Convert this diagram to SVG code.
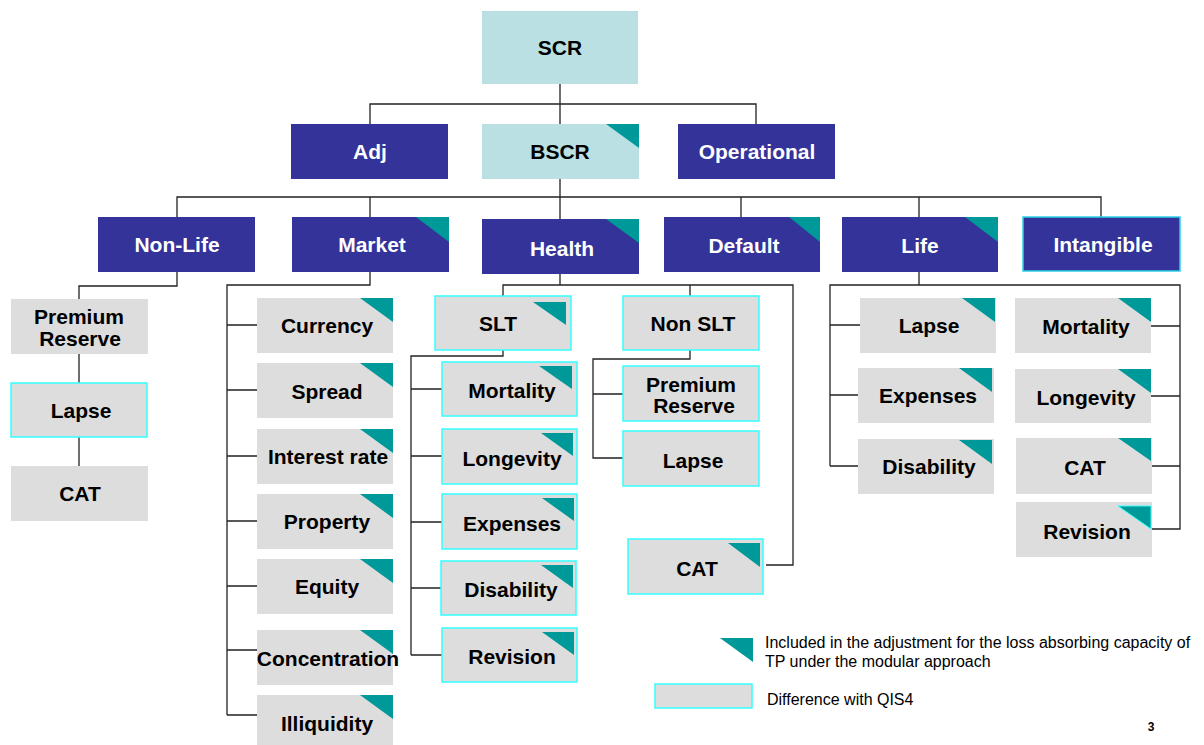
<svg xmlns="http://www.w3.org/2000/svg" width="1204" height="745" viewBox="0 0 1204 745">
  <style>
    .dark { fill: #333399; }
    .light { fill: #BBE0E3; }
    .gray { fill: #DDDDDD; }
    .diff { fill: #DDDDDD; stroke: #33FFFF; stroke-width: 1.5; }
    .tri { fill: #009999; }
    .lbl { font-family: "Liberation Sans", Arial, sans-serif; font-weight: bold; font-size: 21px; text-anchor: middle; fill: #000; }
    .w { fill: #FFFFFF; }
    .conn { fill: none; stroke: #222; stroke-width: 1.3; }
    .note { font-family: "Liberation Sans", Arial, sans-serif; font-size: 16px; fill: #000; }
  </style>
  <rect width="1204" height="745" fill="#FFFFFF"/>

  <!-- connectors -->
  <g id="connectors" class="conn">
    <path d="M560,84 V104 M370,124 V104 H756 V124 M560,104 V124"/>
    <path d="M560,179 V197 M177,217 V197 H1101 V217 M370,197 V217 M560,197 V219 M741,197 V217 M919,197 V217"/>
    <!-- Non-Life -->
    <path d="M177,272 V286 H79 V299 M79,354 V383 M79,437 V466"/>
    <!-- Market -->
    <path d="M370,272 V285 H227 V715 M227,325 H257 M227,390 H257 M227,456 H257 M227,521 H257 M227,586 H257 M227,650 H257 M227,715 H257"/>
    <!-- Health -->
    <path d="M560,274 V285 M503,296 V285 H793 V565 H766 M690,285 V296"/>
    <path d="M503,350 V356 H411 V655 M411,389 H442 M411,456 H442 M411,522 H442 M411,588 H441 M411,655 H442"/>
    <path d="M690,350 V359 H593 V458 H623 M593,394 H623"/>
    <!-- Life -->
    <path d="M919,272 V285 M830,466 V285 H1180 V529 H1152 M830,325 H860 M830,395 H858 M830,466 H858 M1151,326 H1180 M1151,396 H1180 M1152,466 H1180"/>
  </g>

  <!-- top levels -->
  <g id="scr">
    <rect class="light" x="482" y="11" width="156" height="73"/>
    <text class="lbl" x="560" y="55">SCR</text>
  </g>
  <g id="adj">
    <rect class="dark" x="291" y="124" width="157" height="55"/>
    <text class="lbl w" x="370" y="159">Adj</text>
  </g>
  <g id="bscr">
    <rect class="light" x="482" y="124" width="157" height="55"/>
    <polygon class="tri" points="606,124 639,124 639,148"/>
    <text class="lbl" x="560" y="159">BSCR</text>
  </g>
  <g id="operational">
    <rect class="dark" x="678" y="124" width="157" height="55"/>
    <text class="lbl w" x="757" y="159">Operational</text>
  </g>

  <!-- modules -->
  <g id="non-life">
    <rect class="dark" x="98" y="217" width="157" height="55"/>
    <text class="lbl w" x="177" y="252">Non-Life</text>
  </g>
  <g id="market">
    <rect class="dark" x="292" y="217" width="157" height="55"/>
    <polygon class="tri" points="416,217 449,217 449,242"/>
    <text class="lbl w" x="372" y="252">Market</text>
  </g>
  <g id="health">
    <rect class="dark" x="482" y="219" width="157" height="55"/>
    <polygon class="tri" points="606,219 639,219 639,243"/>
    <text class="lbl w" x="562" y="256">Health</text>
  </g>
  <g id="default">
    <rect class="dark" x="664" y="217" width="156" height="55"/>
    <polygon class="tri" points="789,217 820,217 820,242"/>
    <text class="lbl w" x="744" y="253">Default</text>
  </g>
  <g id="life">
    <rect class="dark" x="842" y="217" width="156" height="55"/>
    <polygon class="tri" points="965,217 998,217 998,242"/>
    <text class="lbl w" x="920" y="253">Life</text>
  </g>
  <g id="intangible">
    <rect class="dark" x="1023" y="217" width="157" height="54" stroke="#2ED1E6" stroke-width="1.5"/>
    <text class="lbl w" x="1103" y="252">Intangible</text>
  </g>

  <!-- Non-Life sub-modules -->
  <g id="nl-premium-reserve">
    <rect class="gray" x="11" y="299" width="137" height="55"/>
    <text class="lbl" x="79" y="324">Premium</text>
    <text class="lbl" x="80" y="346">Reserve</text>
  </g>
  <g id="nl-lapse">
    <rect class="diff" x="11" y="383" width="136" height="54"/>
    <text class="lbl" x="81" y="418">Lapse</text>
  </g>
  <g id="nl-cat">
    <rect class="gray" x="11" y="466" width="137" height="55"/>
    <text class="lbl" x="80" y="501">CAT</text>
  </g>

  <!-- Market sub-modules -->
  <g id="mk-currency">
    <rect class="gray" x="257" y="298" width="136" height="55"/>
    <polygon class="tri" points="360,298 393,298 393,322"/>
    <text class="lbl" x="327" y="333">Currency</text>
  </g>
  <g id="mk-spread">
    <rect class="gray" x="257" y="363" width="136" height="55"/>
    <polygon class="tri" points="360,363 393,363 393,387"/>
    <text class="lbl" x="327" y="399">Spread</text>
  </g>
  <g id="mk-interest-rate">
    <rect class="gray" x="257" y="429" width="136" height="55"/>
    <polygon class="tri" points="360,429 393,429 393,453"/>
    <text class="lbl" x="328" y="464">Interest rate</text>
  </g>
  <g id="mk-property">
    <rect class="gray" x="257" y="494" width="136" height="55"/>
    <polygon class="tri" points="360,494 393,494 393,518"/>
    <text class="lbl" x="327" y="529">Property</text>
  </g>
  <g id="mk-equity">
    <rect class="gray" x="257" y="559" width="136" height="55"/>
    <polygon class="tri" points="360,559 393,559 393,583"/>
    <text class="lbl" x="327" y="594">Equity</text>
  </g>
  <g id="mk-concentration">
    <rect class="gray" x="257" y="630" width="136" height="55"/>
    <polygon class="tri" points="360,630 393,630 393,654"/>
    <text class="lbl" x="328" y="666">Concentration</text>
  </g>
  <g id="mk-illiquidity">
    <rect class="gray" x="257" y="695" width="136" height="50"/>
    <polygon class="tri" points="360,695 393,695 393,719"/>
    <text class="lbl" x="327" y="731">Illiquidity</text>
  </g>

  <!-- Health sub-modules -->
  <g id="h-slt">
    <rect class="diff" x="435" y="296" width="136" height="54"/>
    <polygon class="tri" points="533,302 566,302 566,325"/>
    <text class="lbl" x="498" y="331">SLT</text>
  </g>
  <g id="h-non-slt">
    <rect class="diff" x="623" y="296" width="136" height="54"/>
    <text class="lbl" x="693" y="331">Non SLT</text>
  </g>
  <g id="h-mortality">
    <rect class="diff" x="442" y="362" width="135" height="54"/>
    <polygon class="tri" points="539,366 572,366 572,389"/>
    <text class="lbl" x="512" y="398">Mortality</text>
  </g>
  <g id="h-longevity">
    <rect class="diff" x="442" y="429" width="135" height="55"/>
    <polygon class="tri" points="541,433 573,433 573,456"/>
    <text class="lbl" x="512" y="466">Longevity</text>
  </g>
  <g id="h-expenses">
    <rect class="diff" x="442" y="494" width="135" height="55"/>
    <polygon class="tri" points="542,498 574,498 574,521"/>
    <text class="lbl" x="512" y="531">Expenses</text>
  </g>
  <g id="h-disability">
    <rect class="diff" x="441" y="561" width="135" height="54"/>
    <polygon class="tri" points="541,565 573,565 573,588"/>
    <text class="lbl" x="511" y="597">Disability</text>
  </g>
  <g id="h-revision">
    <rect class="diff" x="442" y="628" width="135" height="54"/>
    <polygon class="tri" points="542,632 574,632 574,655"/>
    <text class="lbl" x="512" y="664">Revision</text>
  </g>
  <g id="h-premium-reserve">
    <rect class="diff" x="623" y="366" width="136" height="55"/>
    <text class="lbl" x="691" y="392">Premium</text>
    <text class="lbl" x="694" y="413">Reserve</text>
  </g>
  <g id="h-lapse">
    <rect class="diff" x="623" y="431" width="136" height="55"/>
    <text class="lbl" x="693" y="468">Lapse</text>
  </g>
  <g id="h-cat">
    <rect class="diff" x="628" y="539" width="135" height="55"/>
    <polygon class="tri" points="728,543 760,543 760,567"/>
    <text class="lbl" x="697" y="576">CAT</text>
  </g>

  <!-- Life sub-modules -->
  <g id="l-lapse">
    <rect class="gray" x="860" y="298" width="136" height="55"/>
    <polygon class="tri" points="962,298 995,298 995,322"/>
    <text class="lbl" x="929" y="333">Lapse</text>
  </g>
  <g id="l-expenses">
    <rect class="gray" x="858" y="368" width="136" height="55"/>
    <polygon class="tri" points="959,368 992,368 992,392"/>
    <text class="lbl" x="928" y="403">Expenses</text>
  </g>
  <g id="l-disability">
    <rect class="gray" x="858" y="439" width="136" height="55"/>
    <polygon class="tri" points="959,440 992,440 992,464"/>
    <text class="lbl" x="929" y="474">Disability</text>
  </g>
  <g id="l-mortality">
    <rect class="gray" x="1015" y="298" width="136" height="55"/>
    <polygon class="tri" points="1118,298 1151,298 1151,322"/>
    <text class="lbl" x="1086" y="334">Mortality</text>
  </g>
  <g id="l-longevity">
    <rect class="gray" x="1015" y="369" width="136" height="54"/>
    <polygon class="tri" points="1118,369 1151,369 1151,393"/>
    <text class="lbl" x="1086" y="405">Longevity</text>
  </g>
  <g id="l-cat">
    <rect class="gray" x="1016" y="438" width="136" height="56"/>
    <polygon class="tri" points="1118,438 1151,438 1151,461"/>
    <text class="lbl" x="1085" y="475">CAT</text>
  </g>
  <g id="l-revision">
    <rect class="gray" x="1016" y="502" width="136" height="55"/>
    <polygon class="tri" points="1118,506 1151,506 1151,529" stroke="#33FFFF" stroke-width="1"/>
    <text class="lbl" x="1087" y="539">Revision</text>
  </g>

  <!-- legend -->
  <g id="legend">
    <polygon class="tri" points="720,638 753,638 753,662"/>
    <text class="note" x="765" y="648">Included in the adjustment for the loss absorbing capacity of</text>
    <text class="note" x="765" y="667">TP under the modular approach</text>
    <rect class="diff" x="655" y="684" width="97" height="24"/>
    <text class="note" x="767" y="705">Difference with QIS4</text>
  </g>
  <text x="1151" y="731" font-family="Liberation Sans, Arial, sans-serif" font-weight="bold" font-size="12" text-anchor="middle">3</text>
</svg>
